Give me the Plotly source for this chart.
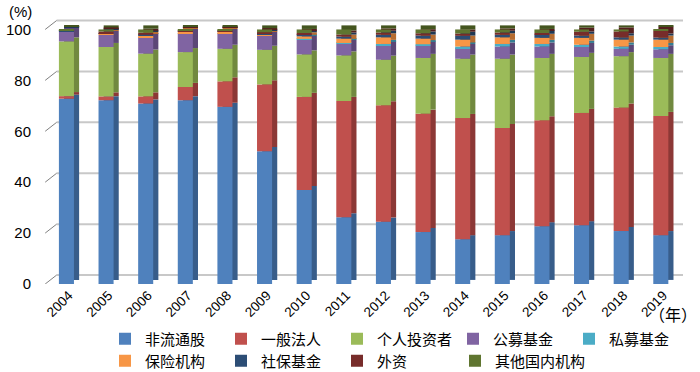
import plotly.graph_objects as go

years = [str(y) for y in range(2004, 2020)]
series_names = ["非流通股", "一般法人", "个人投资者", "公募基金", "私募基金",
                "保险机构", "社保基金", "外资", "其他国内机构"]

nontradable = [72.8, 72.2, 70.9, 72.2, 69.6, 52.2, 36.9, 26.2, 24.5, 20.4, 17.6, 19.2, 22.7, 23.1, 20.8, 19.2]
corporate   = [1.0, 1.5, 2.8, 5.2, 10.0, 26.2, 36.6, 45.7, 45.7, 46.5, 47.6, 42.1, 41.6, 44.1, 48.5, 46.8]
individual  = [21.5, 19.4, 16.8, 13.7, 12.8, 13.6, 16.7, 17.9, 17.9, 21.9, 23.3, 27.2, 24.5, 22.0, 20.2, 22.8]
public_fund = [3.9, 4.8, 6.5, 7.5, 6.2, 5.6, 5.8, 4.6, 5.6, 4.9, 4.2, 4.8, 4.5, 3.9, 2.9, 3.4]
private_fund= [0.0, 0.0, 0.0, 0.0, 0.0, 0.0, 0.3, 0.3, 0.6, 0.5, 0.6, 1.0, 1.0, 0.9, 0.9, 0.9]
insurance   = [0.0, 0.4, 0.6, 0.4, 0.4, 0.4, 1.0, 1.7, 2.6, 2.2, 2.7, 2.6, 2.4, 2.7, 2.7, 2.9]
social_sec  = [0.3, 0.3, 0.3, 0.3, 0.3, 0.3, 0.8, 0.8, 1.0, 1.2, 1.5, 1.0, 1.3, 0.9, 0.9, 0.8]
foreign     = [0.1, 0.6, 0.8, 0.2, 0.2, 0.6, 0.5, 0.8, 0.9, 0.9, 0.9, 0.9, 0.6, 1.5, 2.3, 2.7]
other_dom   = [0.4, 0.8, 1.3, 0.5, 0.5, 1.1, 1.4, 2.0, 1.2, 1.5, 1.6, 1.2, 1.4, 0.9, 0.8, 0.5]

y_ticks = [0, 20, 40, 60, 80, 100]

all_series = [nontradable, corporate, individual, public_fund, private_fund,
              insurance, social_sec, foreign, other_dom]

colors = ["#4F81BD", "#C0504D", "#9BBB59", "#8064A2", "#4BACC6",
          "#F79646", "#2C4D75", "#772C2A", "#5F7530"]
side_colors = ["#385D8A", "#8C3836", "#71893F", "#5C4776", "#357D91",
               "#B66D31", "#1F3854", "#551F1E", "#44551F"]
legend_of = ["legend"] * 5 + ["legend2"] * 3 + ["legend3"]

FONT = "Liberation Sans, Noto Sans CJK SC, sans-serif"
CJK = "Noto Sans CJK SC, sans-serif"

fig = go.Figure()

# cumulative bases
bases = []
cum = [0.0] * len(years)
for s in all_series:
    bases.append(list(cum))
    cum = [c + v for c, v in zip(cum, s)]

LIFT = 1.6      # depth lift of the 3D side face (in % units)
WALL = 3.5      # back-wall offset for gridlines (in % units)

# side (depth) faces drawn first
for i, s in enumerate(all_series):
    fig.add_trace(go.Bar(
        x=years, y=s, base=[b + LIFT for b in bases[i]],
        width=0.38, offset=-0.12,
        marker=dict(color=side_colors[i], line=dict(width=0)),
        showlegend=False, hoverinfo="skip",
    ))
# front faces
for i, s in enumerate(all_series):
    fig.add_trace(go.Bar(
        x=years, y=s, base=bases[i], name=series_names[i],
        width=0.38, offset=-0.25,
        marker=dict(color=colors[i], line=dict(width=0)),
        legend=legend_of[i],
    ))

shapes = []
for v in y_ticks:
    # back-wall gridline
    shapes.append(dict(type="line", xref="paper", yref="y", layer="below",
                       x0=0.012, x1=1.0, y0=v + WALL, y1=v + WALL,
                       line=dict(color="#C8C8C8", width=2)))
    # perspective tick from label to wall
    shapes.append(dict(type="line", xref="paper", yref="y", layer="below",
                       x0=-0.006, x1=0.012, y0=v, y1=v + WALL,
                       line=dict(color="#808080", width=1)))

legend_common = dict(
    orientation="h", xref="container", yref="container",
    xanchor="left", yanchor="middle",
    entrywidth=71, entrywidthmode="pixels",
    font=dict(size=15, family=CJK), bgcolor="rgba(0,0,0,0)",
    traceorder="normal",
)

fig.update_layout(
    width=700, height=372,
    barmode="overlay",
    plot_bgcolor="rgba(0,0,0,0)", paper_bgcolor="white",
    margin=dict(l=49, r=17, t=18, b=88, autoexpand=False),
    font=dict(family=FONT, size=14, color="#000000"),
    xaxis=dict(
        type="category", range=[-0.5, 15.5], tickangle=-45,
        tickfont=dict(size=13.5, family=FONT), showgrid=False,
        showline=False, ticks="", automargin=False,
    ),
    yaxis=dict(
        range=[0, 104.5], tickvals=y_ticks,
        showgrid=False, zeroline=False,
        tickfont=dict(size=15, family=FONT), ticklabelstandoff=17,
        automargin=False,
    ),
    shapes=shapes,
    legend=dict(legend_common, x=0.150, y=1 - 339 / 372),
    legend2=dict(legend_common, x=0.150, y=1 - 361 / 372),
    legend3=dict(legend_common, x=0.650, y=1 - 361 / 372, entrywidth=110),
    annotations=[
        dict(text="(%)", x=0.0, y=1.0, xref="paper", yref="paper",
             xanchor="center", yanchor="middle", xshift=-29, yshift=7,
             showarrow=False, font=dict(size=15, family=FONT)),
        dict(text="（年）", x=1.0, y=-0.113, xref="paper", yref="paper",
             xanchor="right", yanchor="middle", xshift=16,
             showarrow=False, font=dict(size=16, family=CJK)),
    ],
)

fig.write_html("out.html",
               config={"displayModeBar": False},
               post_script="document.body.style.margin='0';document.body.style.overflow='hidden';")
